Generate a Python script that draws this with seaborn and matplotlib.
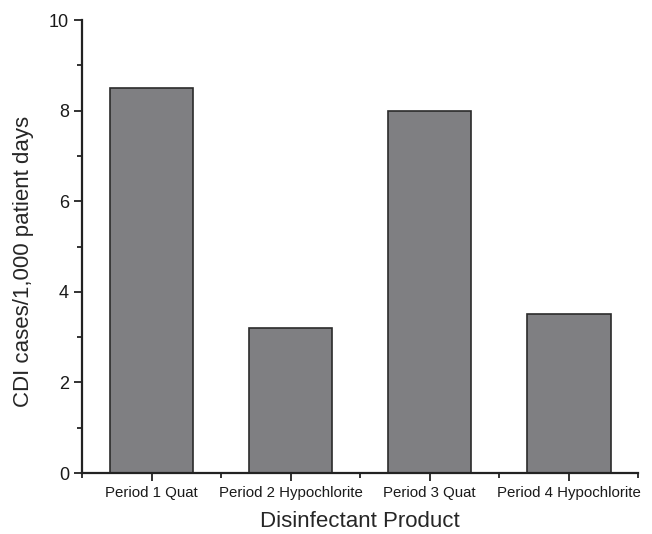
import matplotlib
matplotlib.use("Agg")
import matplotlib.pyplot as plt
import seaborn as sns
import pandas as pd
from matplotlib.ticker import MultipleLocator, FixedLocator

# Datos
periodos = ["Period 1 Quat", "Period 2 Hypochlorite", "Period 3 Quat", "Period 4 Hypochlorite"]
tasas_cdi = [8.5, 3.2, 8.0, 3.5]

df = pd.DataFrame({"periodo": periodos, "tasa": tasas_cdi})

sns.set_style("ticks")
plt.rcParams["font.family"] = ["Liberation Sans", "DejaVu Sans"]
plt.rcParams["text.color"] = "#1a1a1a"
plt.rcParams["xtick.labelcolor"] = "#1a1a1a"
plt.rcParams["ytick.labelcolor"] = "#1a1a1a"

fig = plt.figure(figsize=(6.52, 5.34), dpi=100)
ax = fig.add_axes([0.126, 0.1142, 0.853, 0.8483])

sns.barplot(data=df, x="periodo", y="tasa", color="#7f7f82", saturation=1,
            width=0.6, edgecolor="#2b2b2b", linewidth=1.2, ax=ax)

ax.set_xlim(-0.5, 3.5)
ax.set_ylim(0, 10)
ax.yaxis.set_major_locator(MultipleLocator(2))
ax.yaxis.set_minor_locator(MultipleLocator(1))
ax.xaxis.set_minor_locator(FixedLocator([-0.5, 0.5, 1.5, 2.5, 3.5]))

ax.tick_params(axis="both", which="major", direction="out", length=6, width=1.3, color="#222222")
ax.tick_params(axis="both", which="minor", direction="out", length=3.5, width=1.3, color="#222222")
ax.tick_params(axis="y", labelsize=13)
ax.tick_params(axis="x", labelsize=10.8)

for lado in ["top", "right"]:
    ax.spines[lado].set_visible(False)
for lado in ["left", "bottom"]:
    ax.spines[lado].set_linewidth(1.6)
    ax.spines[lado].set_color("#222222")

ax.set_xlabel("Disinfectant Product", fontsize=16, labelpad=8)
ax.set_ylabel("CDI cases/1,000 patient days", fontsize=16)
ax.yaxis.set_label_coords(-0.087, 0.466)

fig.savefig("out.png", dpi=100)
